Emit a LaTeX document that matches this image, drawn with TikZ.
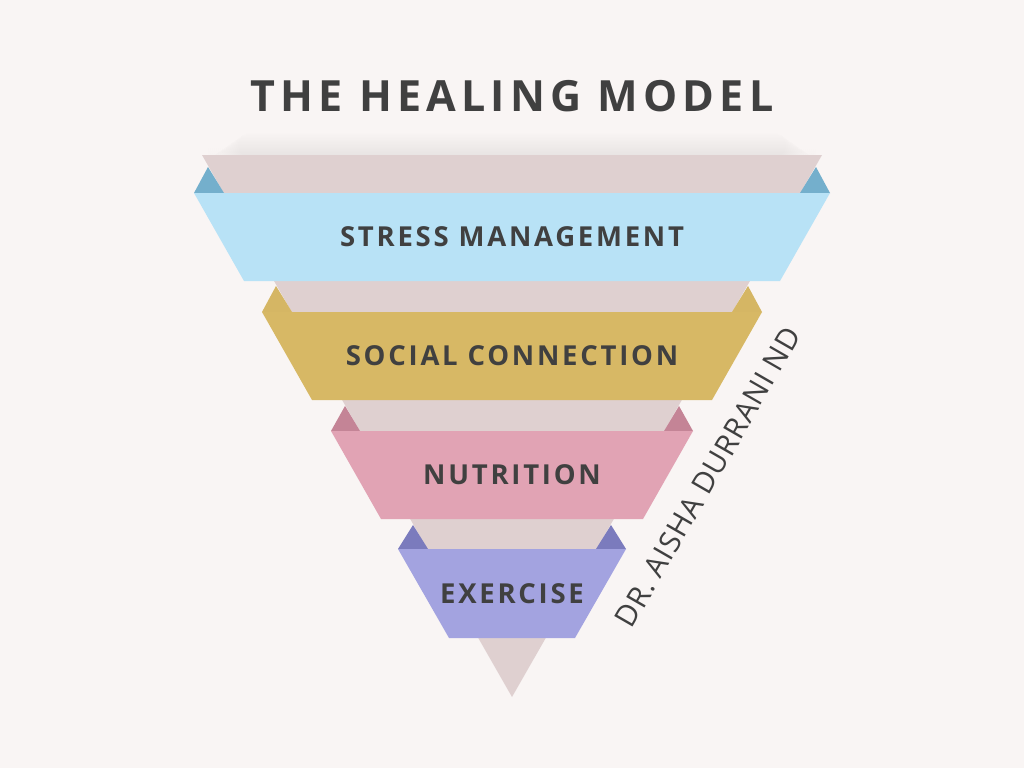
\documentclass[tikz,border=0pt]{standalone}
\usepackage{fontspec}
\setmainfont{Open Sans}
\newfontfamily\titlefont[LetterSpace=12]{Open Sans}
\newfontfamily\labelfont[LetterSpace=10]{Open Sans}
\newfontfamily\authorfont[LetterSpace=3]{Open Sans}
\definecolor{bg}{HTML}{F9F5F4}
\definecolor{tri}{HTML}{DFD0D0}
\definecolor{blueband}{HTML}{B8E2F6}
\definecolor{bluedark}{HTML}{74AFCC}
\definecolor{goldband}{HTML}{D7B865}
\definecolor{golddark}{HTML}{D5B664}
\definecolor{pinkband}{HTML}{E1A3B4}
\definecolor{pinkdark}{HTML}{C48496}
\definecolor{purpband}{HTML}{A3A3E0}
\definecolor{purpdark}{HTML}{7B7BBD}
\definecolor{ink}{HTML}{404040}
\tikzset{
  bandlabel/.style={text=ink, font=\labelfont\bfseries\fontsize{27.5}{31}\selectfont, inner sep=0pt},
}
\begin{document}
\begin{tikzpicture}[x=1pt,y=-1pt]
\useasboundingbox (0,0) rectangle (1024,768);
\fill[bg] (0,0) rectangle (1024,768);
% soft shadow above top edge
\foreach \i in {1,...,16}{
  \fill[black,opacity=0.004,rounded corners=12pt] (206+\i*2,155-\i*1.4) rectangle (818-\i*2,158);
}
% big triangle
\fill[tri] (202,155) -- (822,155) -- (512,697) -- cycle;
% fold triangles
\fill[bluedark] (194,193) -- (208,167) -- (224,193) -- cycle;
\fill[bluedark] (830,193) -- (816,167) -- (800,193) -- cycle;
\fill[golddark] (262,312) -- (276,286) -- (292,312) -- cycle;
\fill[golddark] (762,312) -- (748,286) -- (732,312) -- cycle;
\fill[pinkdark] (331,431) -- (345,406) -- (360,431) -- cycle;
\fill[pinkdark] (693,431) -- (679,406) -- (664,431) -- cycle;
\fill[purpdark] (398,549) -- (413,525) -- (428,549) -- cycle;
\fill[purpdark] (626,549) -- (611,525) -- (596,549) -- cycle;
% bands
\fill[blueband] (194,193) -- (830,193) -- (780,281) -- (244,281) -- cycle;
\fill[goldband] (262,312) -- (762,312) -- (712,400) -- (312,400) -- cycle;
\fill[pinkband] (331,431) -- (693,431) -- (643,519) -- (381,519) -- cycle;
\fill[purpband] (398,549) -- (626,549) -- (575,638) -- (449,638) -- cycle;
% labels
\node[bandlabel] (l1) at (512,237) {STRESS MANAGEMENT};
\node[bandlabel] (l2) at (512,356) {SOCIAL CONNECTION};
\node[bandlabel] (l3) at (512,475) {NUTRITION};
\node[bandlabel] (l4) at (512,594) {EXERCISE};
% title
\node[text=ink, font=\titlefont\bfseries\fontsize{43}{50}\selectfont, inner sep=0pt] (title) at (512,96) {THE HEALING MODEL};
% author
\node[text=ink, font=\authorfont\fontsize{29.5}{33}\selectfont, inner sep=0pt, rotate=60] (author) at (708,477) {DR. AISHA DURRANI ND};
\end{tikzpicture}
\end{document}
